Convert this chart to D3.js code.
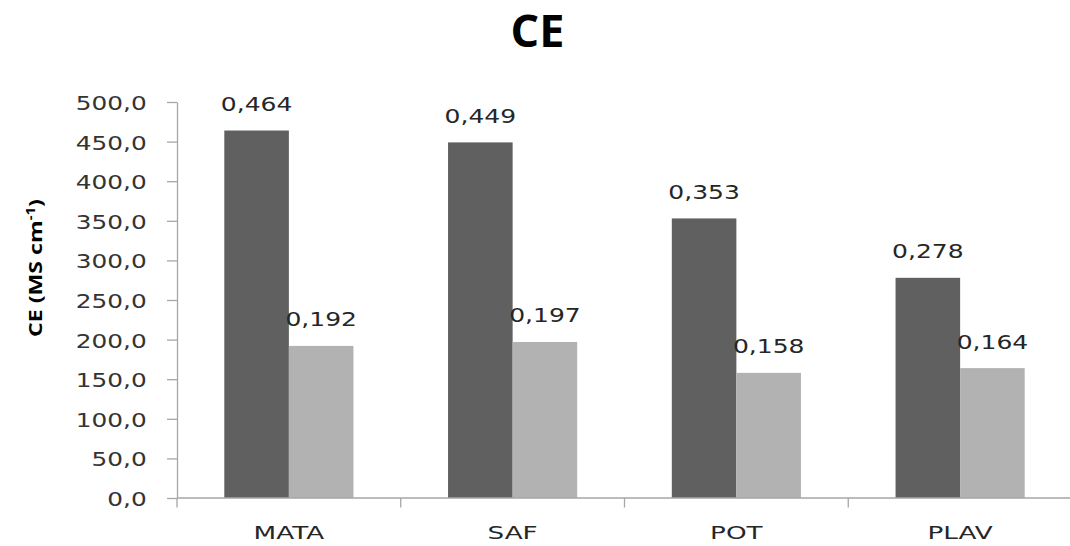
<!DOCTYPE html>
<html>
<head>
<meta charset="utf-8">
<script src="https://cdn.jsdelivr.net/npm/d3@7"></script>
<style>
  html, body { margin: 0; padding: 0; background: #ffffff; }
  svg { display: block; }
</style>
</head>
<body>
<svg id="chart" width="1070" height="546"></svg>
<script>
// ---- data ----
const categories = ["MATA", "SAF", "POT", "PLAV"];
const seriesNames = ["A", "B"];
const seriesA = [464, 449, 353, 278];
const seriesB = [192, 197, 158, 164];
const labelsA = ["0,464", "0,449", "0,353", "0,278"];
const labelsB = ["0,192", "0,197", "0,158", "0,164"];
const yTicks = [0, 50, 100, 150, 200, 250, 300, 350, 400, 450, 500];
const titleText = "CE";

// ---- layout ----
const svg = d3.select("#chart");
const mLeft = 177, mRight = 1072, mTop = 102, mBottom = 498;
const colors = ["#606060", "#b2b2b2"];
const axisColor = "#a6a6a6";
const sxTick = 1.27, sxLabel = 1.25, sxCat = 1.42;

const y = d3.scaleLinear().domain([0, 500]).range([mBottom, mTop]);
const x0 = d3.scaleBand().domain(categories).range([mLeft, mRight]).padding(0);
const bw = x0.bandwidth();
const x1 = d3.scaleBand().domain(seriesNames).range([bw * 0.2114, bw * 0.7886]).padding(0);

const rows = categories.map((c, i) => ({
  cat: c,
  vals: [
    { s: "A", v: seriesA[i], lab: labelsA[i], col: colors[0] },
    { s: "B", v: seriesB[i], lab: labelsB[i], col: colors[1] }
  ]
}));

// ---- bars ----
const groups = svg.append("g").selectAll("g").data(rows).join("g")
  .attr("transform", d => `translate(${x0(d.cat)},0)`);

groups.selectAll("rect").data(d => d.vals).join("rect")
  .attr("x", d => x1(d.s))
  .attr("y", d => y(d.v))
  .attr("width", x1.bandwidth())
  .attr("height", d => y(0) - y(d.v))
  .attr("fill", d => d.col);

// value labels
groups.selectAll("text").data(d => d.vals).join("text")
  .attr("transform", d => `translate(${x1(d.s) + x1.bandwidth() / 2},${y(d.v) - 19.5}) scale(${sxLabel},1)`)
  .attr("text-anchor", "middle")
  .attr("font-family", "DejaVu Sans, Verdana, sans-serif")
  .attr("font-size", 20)
  .attr("fill", "#262626")
  .text(d => d.lab);

// ---- y axis ----
const yAxis = svg.append("g")
  .attr("transform", `translate(${mLeft},0)`)
  .call(d3.axisLeft(y).tickValues(yTicks).tickSize(10).tickSizeOuter(0)
    .tickFormat(d => d3.format(".1f")(d).replace(".", ",")));
yAxis.select(".domain").attr("stroke", axisColor).attr("stroke-width", 1.3);
yAxis.selectAll(".tick line").attr("stroke", axisColor).attr("stroke-width", 1.3);
yAxis.selectAll(".tick text")
  .attr("x", null).attr("dy", null)
  .attr("transform", `translate(-30.3,7.5) scale(${sxTick},1)`)
  .attr("font-family", "DejaVu Sans, Verdana, sans-serif")
  .attr("font-size", 19.5)
  .attr("fill", "#333333");

// ---- x axis ----
const xAxisG = svg.append("g");
xAxisG.append("line")
  .attr("x1", mLeft).attr("x2", mRight)
  .attr("y1", y(0)).attr("y2", y(0))
  .attr("stroke", axisColor).attr("stroke-width", 1.3);
const boundaries = categories.map(c => x0(c)).concat([mRight]);
xAxisG.selectAll("line.bt").data(boundaries).join("line")
  .attr("class", "bt")
  .attr("x1", d => d).attr("x2", d => d)
  .attr("y1", y(0)).attr("y2", y(0) + 9.5)
  .attr("stroke", axisColor).attr("stroke-width", 1.3);
xAxisG.selectAll("text").data(categories).join("text")
  .attr("transform", d => `translate(${x0(d) + bw / 2},539) scale(${sxCat},1)`)
  .attr("text-anchor", "middle")
  .attr("font-family", "DejaVu Sans, Verdana, sans-serif")
  .attr("font-size", 18.5)
  .attr("fill", "#262626")
  .text(d => d);

// ---- title ----
svg.append("text")
  .attr("x", 537.5).attr("y", 47)
  .attr("text-anchor", "middle")
  .attr("font-family", "Open Sans, sans-serif")
  .attr("font-weight", "bold")
  .attr("font-size", 45)
  .attr("fill", "#000000")
  .text(titleText);

// ---- y label ----
const yl = svg.append("text")
  .attr("transform", "translate(42,268) rotate(-90) scale(1.25,1)")
  .attr("text-anchor", "middle")
  .attr("font-family", "Open Sans, sans-serif")
  .attr("font-weight", "bold")
  .attr("font-size", 18.5)
  .attr("fill", "#000000");
yl.append("tspan").text("CE (MS cm");
yl.append("tspan").attr("font-size", 12).attr("dy", -7).text("-1");
yl.append("tspan").attr("dy", 7).text(")");
</script>
</body>
</html>
